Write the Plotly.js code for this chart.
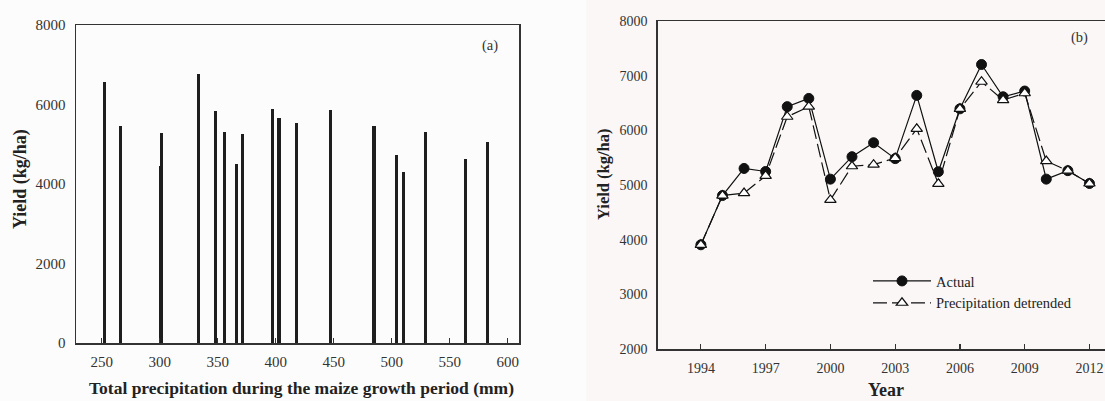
<!DOCTYPE html>
<html>
<head>
<meta charset="utf-8">
<script src="https://cdn.plot.ly/plotly-3.0.1.min.js"></script>
<style>html,body{margin:0;padding:0;background:#fdfcfc;}#chart{width:1105px;height:401px;}</style>
</head>
<body>
<div id="chart"></div>
<script>
// ---- Data ----
const precipitation = [252.2, 265.8, 300.3, 301.7, 333.6, 347.7, 356.0, 366.4, 371.6, 397.6, 402.8, 417.5, 446.8, 484.7, 504.0, 510.3, 529.3, 563.2, 582.4];
const barYield = [6560, 5460, 4450, 5275, 6760, 5830, 5310, 4500, 5260, 5885, 5660, 5535, 5855, 5450, 4730, 4310, 5300, 4640, 5055];

const years = [1994, 1995, 1996, 1997, 1998, 1999, 2000, 2001, 2002, 2003, 2004, 2005, 2006, 2007, 2008, 2009, 2010, 2011, 2012];
const actualYield = [3910, 4810, 5305, 5250, 6435, 6585, 5110, 5520, 5775, 5485, 6640, 5245, 6395, 7205, 6615, 6720, 5110, 5265, 5030];
const detrendedYield = [3910, 4810, 4855, 5170, 6250, 6435, 4730, 5345, 5375, 5495, 6030, 5025, 6395, 6890, 6555, 6680, 5440, 5265, 5030];

const precipTicks = [250, 300, 350, 400, 450, 500, 550, 600];
const yearTicks = [1994, 1997, 2000, 2003, 2006, 2009, 2012];

const seriesNames = ['Actual', 'Precipitation detrended'];

// ---- Styling ----
const W = 1105, H = 401;
const px = v => v / W;
const py = v => 1 - v / H;
const serif = '"Liberation Serif", "Times New Roman", serif';
const axisColor = '#333';
const tickFontA = {family: serif, size: 15, color: '#333'};
const tickFontB = {family: serif, size: 14, color: '#333'};

const traces = [
  {
    type: 'bar', x: precipitation, y: barYield,
    width: precipitation.map(() => 2.6),
    marker: {color: '#1e1e1e', line: {width: 0}},
    xaxis: 'x', yaxis: 'y', showlegend: false, hoverinfo: 'x+y'
  },
  {
    type: 'scatter', mode: 'lines+markers', name: seriesNames[0],
    x: years, y: actualYield,
    line: {color: '#111', width: 1.2},
    marker: {symbol: 'circle', size: 10, color: '#111', line: {color: '#111', width: 1}},
    xaxis: 'x2', yaxis: 'y2'
  },
  {
    type: 'scatter', mode: 'lines+markers', name: seriesNames[1],
    x: years, y: detrendedYield,
    line: {color: '#111', width: 1.2, dash: '14px,5px'},
    marker: {symbol: 'triangle-up', size: 10, color: '#ffffff', line: {color: '#111', width: 1.2}},
    xaxis: 'x2', yaxis: 'y2'
  }
];

const baseAxis = {
  showgrid: false, zeroline: false, showline: true,
  linecolor: axisColor, linewidth: 1.5,
  fixedrange: true, ticklabeloverflow: 'allow'
};

const ann = (text, x, y, size, extra) => Object.assign({
  text: text, xref: 'paper', yref: 'paper', x: px(x), y: py(y),
  xanchor: 'center', yanchor: 'middle', showarrow: false,
  font: {family: serif, size: size, color: '#222'}
}, extra || {});

const layout = {
  width: W, height: H, autosize: false,
  margin: {l: 0, r: 0, t: 0, b: 0, pad: 0},
  paper_bgcolor: '#fdfcfc', plot_bgcolor: 'rgba(0,0,0,0)',
  font: {family: serif, color: '#222'},
  bargap: 0,
  xaxis: Object.assign({}, baseAxis, {
    domain: [px(76), px(519)], range: [227.8, 609.7], anchor: 'y', tickfont: tickFontA,
    tickmode: 'array', tickvals: precipTicks, ticks: 'inside', ticklen: 5,
    tickcolor: axisColor, tickwidth: 1.2, mirror: true, ticklabelstandoff: 4
  }),
  yaxis: Object.assign({}, baseAxis, {
    domain: [py(343), py(25)], range: [0, 8000], anchor: 'x', tickfont: tickFontA,
    dtick: 2000, ticks: '', mirror: true, ticklabelstandoff: 6
  }),
  xaxis2: Object.assign({}, baseAxis, {
    domain: [px(657.7), 1], range: [1992, 2012.72], anchor: 'y2', tickfont: tickFontB,
    tickmode: 'array', tickvals: yearTicks, ticks: 'inside', ticklen: 5,
    tickcolor: axisColor, tickwidth: 1.2, mirror: true, ticklabelstandoff: 5
  }),
  yaxis2: Object.assign({}, baseAxis, {
    domain: [py(349.3), py(21)], range: [2000, 8000], anchor: 'x2', tickfont: tickFontB,
    dtick: 1000, ticks: '', mirror: false, ticklabelstandoff: 6
  }),
  legend: {
    x: px(868), y: py(265), xanchor: 'left', yanchor: 'top',
    bgcolor: 'rgba(0,0,0,0)', borderwidth: 0,
    font: {family: serif, size: 14.5, color: '#222'},
    itemwidth: 58, tracegroupgap: 0
  },
  shapes: [
    {type: 'rect', xref: 'paper', yref: 'paper', x0: px(586), x1: 1, y0: 0, y1: 1,
     fillcolor: '#faf7f6', line: {width: 0}, layer: 'below'}
  ],
  annotations: [
    ann('<b>Yield (kg/ha)</b>', 20, 179, 18, {textangle: -90}),
    ann('<b>Total precipitation during the maize growth period (mm)</b>', 301, 388, 17.5),
    ann('(a)', 490, 46, 14.5, {font: {family: serif, size: 14.5, color: '#333'}}),
    ann('<b>Yield (kg/ha)</b>', 603, 174, 16.5, {textangle: -90}),
    ann('<b>Year</b>', 886, 390, 18),
    ann('(b)', 1079, 37, 14.5, {font: {family: serif, size: 14.5, color: '#333'}})
  ]
};

Plotly.newPlot('chart', traces, layout, {displayModeBar: false, staticPlot: true});
</script>
</body>
</html>
